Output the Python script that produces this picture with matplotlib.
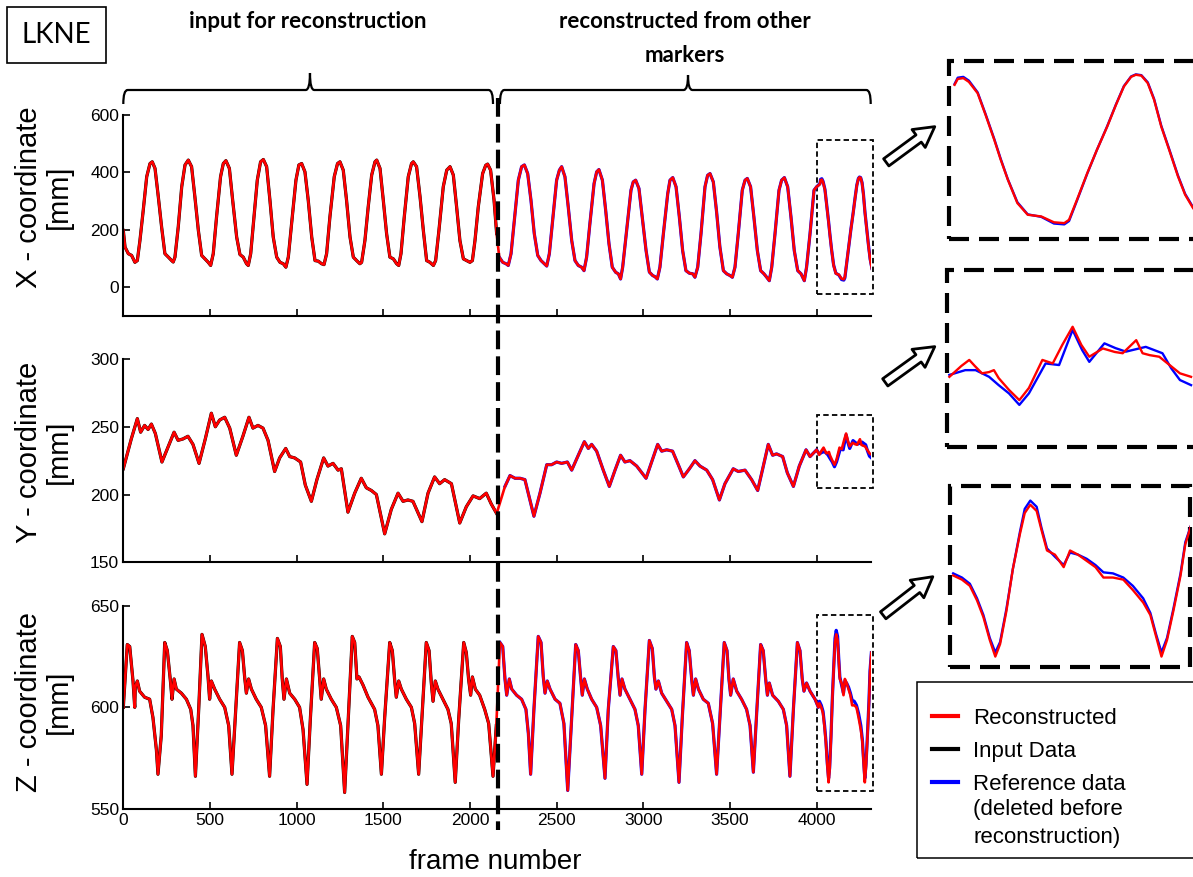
import matplotlib
matplotlib.use('Agg')
import matplotlib.pyplot as plt
import matplotlib.transforms as mtransforms
import numpy as np
from matplotlib.lines import Line2D
from matplotlib.patches import Rectangle, FancyArrowPatch, PathPatch
from matplotlib.path import Path

plt.rcParams['font.family'] = ['Liberation Sans', 'DejaVu Sans']

# values, (frame, mm)
x_main = [(0,198),(10,140),(29,117),(48,111),(67,87),(81,93),(96,163),(115,268),(135,385),(154,431),(167,437),(183,414),(202,315),(221,210),(240,117),(260,105),(279,93),(288,88),(298,105),(317,210),(337,350),(356,426),(375,443),(394,420),(413,315),(433,198),(452,111),(471,99),(490,87),(504,76),(519,117),(538,245),(561,385),(577,431),(592,441),(612,414),(631,303),(654,175),(673,114),(692,105),(711,82),(721,76),(735,117),(754,245),(773,373),(792,437),(808,445),(827,420),(846,303),(865,175),(885,105),(904,87),(923,82),(938,70),(952,105),(971,222),(996,373),(1013,426),(1029,431),(1048,402),(1067,303),(1087,175),(1106,93),(1125,91),(1144,82),(1158,79),(1173,117),(1192,245),(1217,385),(1236,431),(1250,437),(1269,408),(1288,303),(1308,175),(1327,105),(1346,93),(1365,82),(1375,87),(1394,163),(1413,280),(1433,391),(1452,437),(1462,443),(1481,414),(1500,303),(1519,187),(1538,105),(1558,99),(1577,82),(1589,76),(1602,117),(1621,245),(1644,385),(1663,431),(1673,437),(1692,420),(1712,315),(1731,198),(1750,93),(1769,87),(1789,76),(1802,93),(1821,198),(1846,350),(1866,408),(1885,420),(1904,391),(1923,280),(1942,163),(1962,99),(1981,93),(2000,87),(2014,93),(2029,163),(2048,280),(2073,396),(2091,425),(2102,429),(2119,408),(2139,303),(2154,187),(2169,105),(2189,87),(2208,82),(2221,76),(2237,117),(2256,233),(2279,373),(2298,420),(2314,426),(2333,396),(2352,303),(2371,187),(2391,111),(2410,93),(2429,82),(2443,74),(2458,117),(2477,233),(2500,373),(2516,408),(2529,420),(2548,385),(2567,280),(2587,163),(2606,93),(2625,76),(2644,70),(2658,58),(2673,105),(2692,222),(2716,361),(2731,402),(2744,410),(2764,373),(2783,268),(2802,152),(2821,70),(2841,52),(2856,47),(2869,29),(2881,70),(2904,198),(2929,338),(2942,367),(2956,373),(2975,344),(2994,245),(3016,128),(3035,53),(3054,41),(3067,37),(3081,29),(3096,70),(3116,187),(3141,326),(3154,373),(3170,382),(3189,350),(3208,245),(3227,128),(3246,58),(3266,49),(3285,47),(3298,35),(3314,70),(3333,187),(3356,350),(3371,390),(3385,396),(3404,367),(3423,262),(3442,140),(3462,58),(3481,47),(3500,41),(3514,35),(3529,70),(3548,187),(3571,338),(3587,373),(3600,379),(3619,350),(3638,245),(3658,128),(3677,58),(3696,47),(3712,35),(3727,23),(3741,70),(3760,187),(3783,338),(3798,373),(3814,382),(3833,350),(3852,245),(3871,128),(3891,58),(3910,47),(3929,23),(3942,70),(3962,187),(3985,338),(4000,350)]
x_zoom_rec = [(4019,359),(4023,373),(4030,375),(4037,366),(4048,339),(4058,287),(4069,227),(4077,180),(4086,132),(4098,76),(4111,48),(4128,44),(4144,30),(4157,28),(4163,36),(4173,84),(4186,148),(4198,203),(4211,259),(4222,311),(4232,355),(4241,378),(4247,383),(4254,381),(4262,363),(4270,323),(4279,259),(4289,203),(4300,140),(4309,96),(4319,64)]
x_zoom_ref = [(4019,361),(4023,376),(4030,378),(4037,369),(4048,341),(4058,289),(4069,229),(4077,182),(4086,133),(4098,78),(4111,49),(4128,43),(4144,27),(4157,25),(4163,33),(4173,82),(4186,147),(4198,203),(4211,260),(4222,312),(4232,356),(4241,379),(4247,384),(4254,382),(4262,365),(4270,325),(4279,261),(4289,205),(4300,142),(4309,98),(4319,66)]

y_main = [(0,219),(46,241),(81,256),(100,246),(123,251),(143,248),(162,252),(185,245),(223,224),(258,235),(293,246),(316,240),(344,241),(373,243),(402,237),(437,223),(473,241),(508,260),(531,250),(556,255),(585,257),(614,249),(652,229),(690,243),(725,257),(748,249),(777,251),(806,249),(835,240),(873,217),(902,227),(937,234),(960,228),(989,227),(1023,224),(1050,207),(1085,195),(1117,211),(1156,227),(1181,221),(1210,223),(1239,218),(1258,219),(1296,187),(1335,201),(1373,212),(1402,205),(1431,203),(1460,200),(1508,171),(1546,189),(1585,201),(1614,195),(1642,196),(1671,195),(1723,180),(1758,201),(1796,213),(1825,208),(1854,211),(1893,208),(1941,179),(1979,191),(2018,199),(2056,197),(2094,201),(2123,193),(2154,186),(2202,206),(2231,214),(2260,212),(2289,212),(2317,211),(2369,184),(2404,201),(2443,222),(2471,222),(2500,224),(2529,223),(2562,224),(2587,218),(2625,229),(2660,239),(2683,234),(2702,237),(2731,232),(2769,218),(2804,206),(2837,218),(2869,229),(2894,224),(2923,225),(2962,221),(3016,212),(3048,224),(3083,237),(3106,232),(3135,233),(3169,232),(3202,222),(3231,213),(3266,219),(3298,225),(3327,221),(3366,218),(3400,211),(3439,196),(3471,208),(3519,219),(3548,217),(3587,218),(3625,211),(3660,203),(3689,219),(3721,237),(3746,229),(3769,230),(3804,228),(3831,216),(3866,206),(3900,221),(3939,233),(3962,228),(4000,233)]
y_zoom_rec = [(4015,229.3),(4030,232.7),(4040,234.6),(4047,232.7),(4056,230.4),(4065,230.8),(4071,231.4),(4077,228.9),(4090,225.2),(4103,222),(4115,225.8),(4132,234.6),(4145,233.5),(4157,239.3),(4170,245),(4181,239.3),(4191,235.6),(4208,238.2),(4223,237.1),(4233,236.7),(4250,240.8),(4258,236.7),(4267,236.1),(4279,235.6),(4292,233),(4305,230.4),(4319,229.3)]
y_zoom_ref = [(4015,229.9),(4035,231.4),(4048,231.4),(4065,229.3),(4077,226.7),(4090,224.1),(4103,220.5),(4115,224.1),(4136,233.5),(4153,233),(4170,244),(4182,237.7),(4191,234),(4210,239.8),(4224,238.3),(4237,237.2),(4262,238.7),(4283,236.7),(4294,232),(4305,228.3),(4319,226.7)]

z_main = [(0,600),(23,631),(37,630),(56,613),(66,600),(69,610),(81,613),(94,608),(123,605),(152,604),(171,595),(191,579),(200,567),(219,586),(239,632),(254,628),(273,612),(281,604),(293,614),(306,609),(335,607),(364,604),(389,599),(402,591),(416,566),(435,599),(454,636),(473,630),(489,615),(498,604),(508,613),(527,609),(556,604),(585,600),(608,591),(627,567),(646,595),(671,632),(687,628),(700,615),(710,607),(723,614),(739,609),(767,604),(796,600),(821,591),(844,566),(864,599),(889,634),(906,630),(917,614),(927,604),(941,614),(960,607),(989,604),(1017,600),(1037,589),(1060,562),(1079,594),(1104,632),(1119,629),(1133,614),(1142,604),(1156,614),(1171,609),(1200,604),(1229,600),(1254,591),(1277,558),(1296,591),(1321,635),(1335,632),(1348,614),(1360,615),(1383,611),(1412,605),(1450,599),(1469,591),(1489,567),(1508,595),(1537,632),(1552,628),(1566,613),(1575,605),(1589,613),(1604,609),(1633,604),(1662,600),(1681,592),(1704,567),(1723,595),(1748,632),(1764,628),(1777,612),(1787,603),(1800,613),(1815,609),(1844,604),(1873,599),(1892,592),(1915,563),(1935,594),(1964,632),(1979,627),(1992,614),(2004,606),(2014,615),(2031,609),(2056,606),(2085,599),(2108,592),(2133,566),(2152,591),(2173,632),(2189,630),(2202,614),(2212,606),(2227,614),(2241,609),(2269,606),(2298,604),(2323,599),(2337,587),(2350,567),(2369,599),(2394,635),(2410,632),(2423,615),(2433,607),(2446,613),(2462,609),(2491,604),(2519,602),(2542,592),(2564,559),(2587,595),(2610,631),(2625,628),(2639,614),(2648,606),(2660,614),(2677,609),(2702,604),(2731,600),(2754,591),(2779,565),(2798,599),(2827,630),(2842,628),(2856,614),(2866,606),(2877,614),(2894,609),(2923,604),(2952,599),(2971,591),(2991,567),(3010,599),(3035,633),(3052,629),(3064,615),(3073,609),(3087,613),(3106,607),(3135,603),(3164,599),(3183,591),(3206,563),(3225,595),(3250,632),(3265,628),(3279,614),(3289,606),(3302,614),(3318,609),(3346,604),(3375,602),(3400,592),(3423,567),(3442,595),(3467,632),(3483,628),(3494,614),(3504,606),(3519,614),(3539,608),(3567,604),(3596,599),(3616,591),(3635,568),(3654,597),(3677,631),(3692,628),(3706,614),(3716,606),(3727,612),(3746,606),(3779,603),(3808,599),(3827,591),(3846,566),(3866,599),(3889,632),(3904,628),(3917,614),(3927,608),(3942,612),(3962,608),(3991,604),(4010,600)]
z_zoom_rec = [(4016,602),(4027,600),(4037,597),(4046,590),(4054,582),(4062,571),(4069,563),(4075,569),(4083,585),(4091,605),(4100,622),(4106,632),(4113,636),(4121,633),(4127,624),(4134,614),(4144,612),(4155,606),(4163,614),(4173,612),(4184,609),(4195,606),(4205,601),(4217,601),(4230,600),(4242,595),(4255,589),(4264,583),(4271,573),(4278,563),(4285,571),(4293,585),(4302,602),(4308,617),(4316,627)]
z_zoom_ref = [(4016,603),(4027,601),(4037,598),(4046,591),(4054,583),(4062,572),(4069,565),(4075,570),(4083,586),(4091,605),(4100,623),(4106,634),(4113,638),(4121,635),(4127,625),(4134,615),(4144,611),(4155,607),(4163,613),(4173,612),(4184,610),(4195,607),(4205,603.5),(4217,603),(4230,601),(4242,597),(4255,591),(4264,584),(4271,574),(4278,565),(4285,572),(4293,586),(4302,603),(4308,618),(4316,627)]

split_frame = 2160
x_max = 4312
x_ticks = [0, 500, 1000, 1500, 2000, 2500, 3000, 3500, 4000]

W, H = 1193, 877
fig = plt.figure(figsize=(W / 100, H / 100), dpi=100)


def box(left, top, right, bottom):
    return [left / W, 1 - bottom / H, (right - left) / W, (bottom - top) / H]


def xy(x, y):
    return (x / W, 1 - y / H)


def cols(pts):
    a = np.array(pts, dtype=float)
    return a[:, 0], a[:, 1]


panels = [
    dict(pos=(115, 316), ylim=(-100, 600), yticks=[0, 200, 400, 600], name='X', label_y=197,
         main=x_main, rec=x_zoom_rec, ref=x_zoom_ref, win=(-22, 513),
         inset=(949, 61, 1215, 239), inset_ylim=(-10, 416), arrow=((884, 164), (937, 125))),
    dict(pos=(359, 562.3), ylim=(150, 300), yticks=[150, 200, 250, 300], name='Y', label_y=452,
         main=y_main, rec=y_zoom_rec, ref=y_zoom_ref, win=(205, 258.7),
         inset=(947, 270, 1215, 447), inset_ylim=(207.3, 262.8), arrow=((883, 384), (937, 345))),
    dict(pos=(606, 808.7), ylim=(550, 650), yticks=[550, 600, 650], name='Z', label_y=702,
         main=z_main, rec=z_zoom_rec, ref=z_zoom_ref, win=(558.5, 645.5),
         inset=(950, 486, 1190, 667), inset_ylim=(558, 645), arrow=((881, 617), (935, 575))),
]

axes = []
for i, p in enumerate(panels):
    ax = fig.add_axes(box(123.3, p['pos'][0], 870.7, p['pos'][1]))
    axes.append(ax)
    fm, vm = cols(p['main'])
    fr, vr = cols(p['rec'])
    ff, vf = cols(p['ref'])
    inp = fm <= split_frame
    ax.plot(fm[inp], vm[inp], color='black', lw=2.3, label='Input Data')
    ax.plot(np.r_[fm[~inp], ff], np.r_[vm[~inp], vf], color='#0000ff', lw=2.3, label='Reference data')
    ax.plot(np.r_[fm, fr], np.r_[vm, vr], color='#ff0000', lw=1.9, label='Reconstructed')
    ax.set_xlim(0, x_max)
    ax.set_ylim(*p['ylim'])
    ax.set_yticks(p['yticks'])
    ax.set_xticks(x_ticks)
    for s in ['top', 'right']:
        ax.spines[s].set_visible(False)
    for s in ['left', 'bottom']:
        ax.spines[s].set_linewidth(1.5)
    ax.tick_params(direction='in', length=5, width=1.2, labelsize=12.5, pad=3)
    if i < 2:
        ax.tick_params(axis='x', labelbottom=False)
    fig.text(44 / W, 1 - p['label_y'] / H, p['name'] + ' - coordinate\n[mm]', rotation=90,
             ha='center', va='center', fontsize=21, linespacing=1.05, multialignment='center')

    # dashed window marking the zoomed part
    ax.add_patch(Rectangle((4000, p['win'][0]), 327, p['win'][1] - p['win'][0], fill=False,
                           ls=(0, (3, 1.8)), lw=1.3, ec='black', clip_on=False))

    # zoomed inset
    ins = fig.add_axes(box(*p['inset']))
    l, t, r, b = p['inset']
    ins.plot(ff, vf, color='#0000ff', lw=1.7)
    ins.plot(fr, vr, color='#ff0000', lw=1.7)
    ins.set_xlim(4012, 4012 + (r - l) / 0.795)
    ins.set_ylim(*p['inset_ylim'])
    ins.axis('off')
    ins.add_patch(Rectangle((0, 0), 1, 1, transform=ins.transAxes, fill=False, lw=3,
                            ls=(0, (4.8, 2.4)), ec='black', clip_on=False))

    a0, a1 = p['arrow']
    fig.add_artist(FancyArrowPatch(xy(*a0), xy(*a1), transform=fig.transFigure,
                                   arrowstyle='simple,head_length=0.9,head_width=1.0,tail_width=0.4',
                                   mutation_scale=16, fc='white', ec='black', lw=2))

ax_z = axes[2]
ax_z.set_xticklabels([str(t) for t in x_ticks])

# thick dashed split line
trans = mtransforms.blended_transform_factory(ax_z.transData, fig.transFigure)
fig.add_artist(Line2D([split_frame, split_frame], [1 - 98 / H, 1 - 830 / H], transform=trans,
                      color='black', lw=3, ls=(0, (4.5, 1.7))))


def brace(x0, x1, xm, y_base, y_end, y_tip, r=25):
    yb, ye, yt = 1 - y_base / H, 1 - y_end / H, 1 - y_tip / H
    verts = [(x0, ye), (x0, yb), (x0 + r, yb), (xm - r, yb), (xm, yb), (xm, yt),
             (xm, yb), (xm + r, yb), (x1 - r, yb), (x1, yb), (x1, ye)]
    codes = [Path.MOVETO, Path.CURVE3, Path.CURVE3, Path.LINETO, Path.CURVE3, Path.CURVE3,
             Path.CURVE3, Path.CURVE3, Path.LINETO, Path.CURVE3, Path.CURVE3]
    fig.add_artist(PathPatch(Path(verts, codes), transform=trans, fill=False, lw=1.6, ec='black'))


brace(0, 2133, 1077, 90, 104, 73)
brace(2173, x_max, 3258, 90, 104, 75)

title_font = dict(family=['Lato', 'DejaVu Sans'], weight='bold', fontsize=16, ha='center', va='center')
fig.text(308 / W, 1 - 22 / H, 'input for reconstruction', **title_font)
fig.text(685 / W, 1 - 22 / H, 'reconstructed from other', **title_font)
fig.text(685 / W, 1 - 55 / H, 'markers', **title_font)

fig.add_artist(Rectangle(xy(7, 63), 99 / W, 56 / H, transform=fig.transFigure, fill=False, lw=1.2, ec='black'))
fig.text(56.5 / W, 1 - 35 / H, 'LKNE', family=['Lato', 'DejaVu Sans'], fontsize=20, ha='center', va='center')

fig.text(495 / W, 1 - 862 / H, 'frame number', fontsize=20, ha='center', va='center')

# legend
fig.add_artist(Rectangle(xy(917, 858), 300 / W, 176 / H, transform=fig.transFigure, fill=False,
                         lw=1.1, ec='black'))
handles, labels = ax_z.get_legend_handles_labels()
order = [2, 0, 1]
leg = fig.legend([handles[k] for k in order], [labels[k] for k in order], loc='upper left',
                 bbox_to_anchor=xy(932, 708), frameon=False, fontsize=16, borderpad=0,
                 borderaxespad=0, handlelength=1.15, handletextpad=0.7, labelspacing=0.53)
for h in leg.get_lines():
    h.set_linewidth(3)

# continuation lines of the last legend label, aligned with its text
fig.canvas.draw()
x_text = leg.get_texts()[2].get_window_extent().x0 / W
fig.text(x_text, 1 - 810 / H, '(deleted before', fontsize=16, ha='left', va='center')
fig.text(x_text, 1 - 838 / H, 'reconstruction)', fontsize=16, ha='left', va='center')

fig.savefig('out.png', dpi=100)
